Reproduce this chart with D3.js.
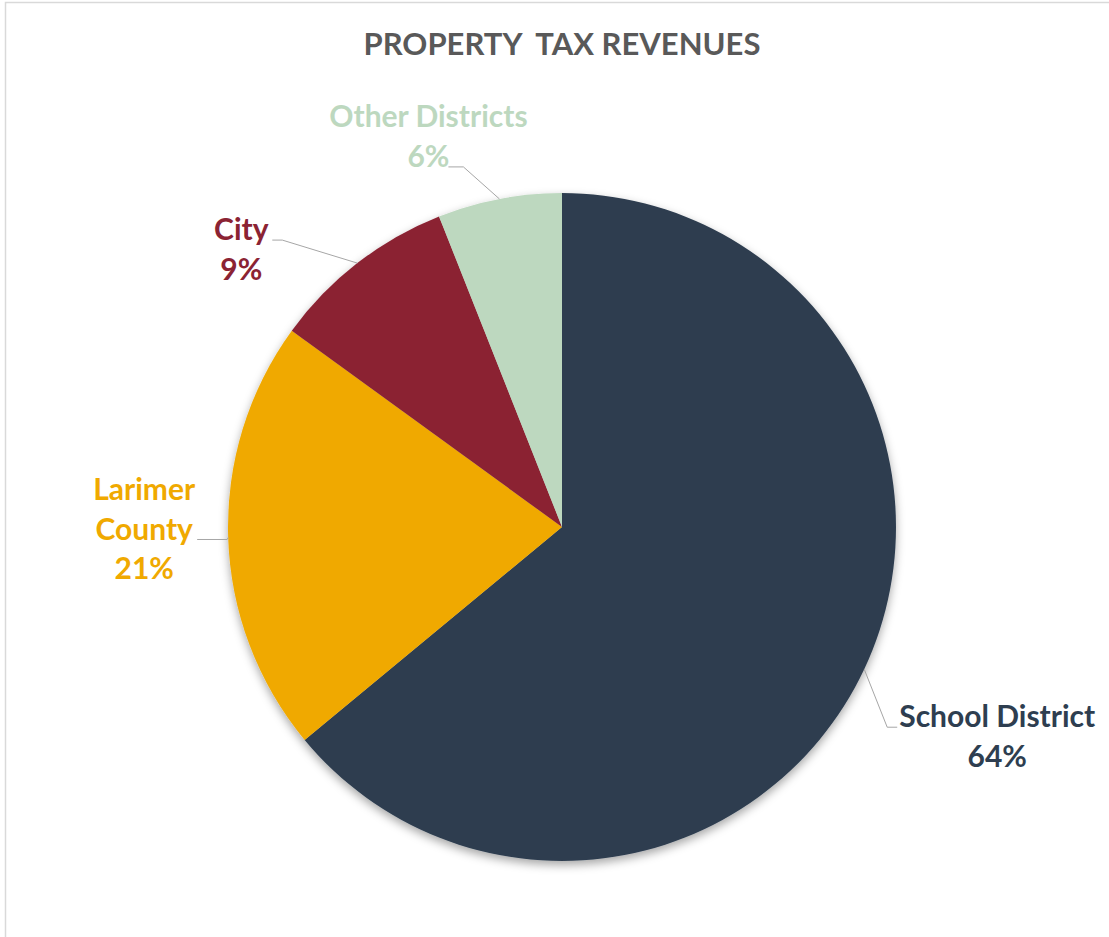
<!DOCTYPE html>
<html>
<head>
<meta charset="utf-8">
<script src="https://cdn.jsdelivr.net/npm/d3@7"></script>
<style>
  html, body { margin: 0; padding: 0; background: #fff; }
  svg { display: block; }
</style>
</head>
<body>
<div id="chart"></div>
<script>
const width = 1109;
const height = 937;

// data
const categories = ["School District", "Larimer County", "City", "Other Districts"];
const shares = [64, 21, 9, 6];
const labelLines = [["School District"], ["Larimer", "County"], ["City"], ["Other Districts"]];
const colors = ["#2e3e50", "#f0a900", "#8b2333", "#bdd8bf"];
const titleText = "PROPERTY  TAX REVENUES";

// label placement (elbow offset from slice edge, leader run, text centre, line the leader meets)
const labelLayout = [
  {dx: 23, dy: 58, run: 10, tx: 100, attach: 0},
  {dx: -1, dy: 2, run: -30, tx: -53, attach: 1},
  {dx: -75, dy: -23, run: -10, tx: -31, attach: 0},
  {dx: -36, dy: -32, run: -15, tx: -20, attach: 1}
];

const cx = 562, cy = 527, radius = 334;
const lineHeight = 40;
const font = "Lato, 'Open Sans', sans-serif";

const svg = d3.select("#chart")
  .append("svg")
  .attr("width", width)
  .attr("height", height);

// chart frame (runs off the right and bottom)
svg.append("rect")
  .attr("x", 5.5)
  .attr("y", 2.5)
  .attr("width", width + 20)
  .attr("height", height + 20)
  .style("fill", "#fff")
  .style("stroke", "#d9d9d9")
  .style("stroke-width", 1.5);

const defs = svg.append("defs");
defs.append("filter")
  .attr("id", "shadow")
  .attr("x", "-10%").attr("y", "-10%")
  .attr("width", "120%").attr("height", "125%")
  .append("feDropShadow")
  .attr("dx", 0)
  .attr("dy", 4)
  .attr("stdDeviation", 5)
  .attr("flood-color", "#000")
  .attr("flood-opacity", 0.35);

svg.append("text")
  .attr("x", cx)
  .attr("y", 55)
  .attr("text-anchor", "middle")
  .style("font-family", font)
  .style("font-weight", 700)
  .style("font-size", "31px")
  .style("white-space", "pre")
  .style("fill", "#595959")
  .text(titleText);

const pie = d3.pie().sort(null).value(d => d)(shares);
const arc = d3.arc().innerRadius(0).outerRadius(radius);

const g = svg.append("g").attr("transform", `translate(${cx},${cy})`);

g.append("g")
  .attr("filter", "url(#shadow)")
  .selectAll("path")
  .data(pie)
  .join("path")
  .attr("d", arc)
  .style("fill", (d, i) => colors[i]);

function edgePoint(d) {
  const a = (d.startAngle + d.endAngle) / 2;
  return [Math.sin(a) * radius, -Math.cos(a) * radius];
}

pie.forEach(function(d, i) {
  const lay = labelLayout[i];
  const p = edgePoint(d);
  const elbow = [p[0] + lay.dx, p[1] + lay.dy];
  const end = [elbow[0] + lay.run, elbow[1]];

  g.append("polyline")
    .attr("points", [p, elbow, end].map(q => q.join(",")).join(" "))
    .style("fill", "none")
    .style("stroke", "#a6a6a6")
    .style("stroke-width", 1);

  const lines = labelLines[i].concat([shares[i] + "%"]);
  const firstBaseline = elbow[1] - lay.attach * lineHeight;

  g.append("text")
    .attr("text-anchor", "middle")
    .style("font-family", font)
    .style("font-weight", 700)
    .style("font-size", "30px")
    .style("fill", colors[i])
    .selectAll("tspan")
    .data(lines)
    .join("tspan")
    .attr("x", end[0] + lay.tx)
    .attr("y", (t, j) => firstBaseline + j * lineHeight)
    .text(t => t);
});
</script>
</body>
</html>
